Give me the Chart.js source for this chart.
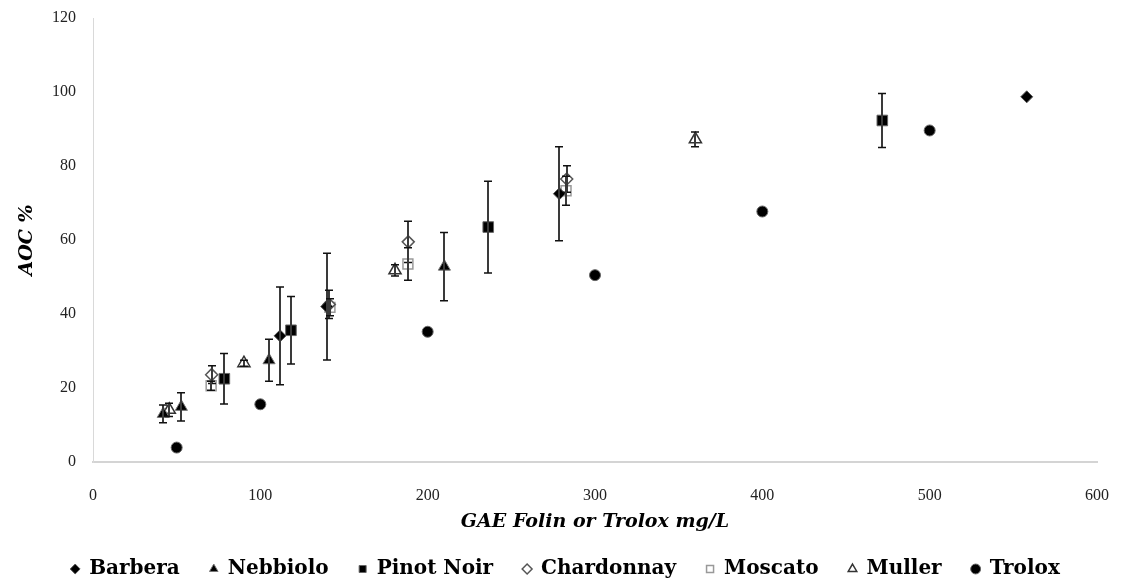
<!DOCTYPE html>
<html>
<head>
<meta charset="utf-8">
<script src="https://cdn.jsdelivr.net/npm/chart.js@4.4.0/dist/chart.umd.min.js"></script>
<style>
  html, body { margin: 0; padding: 0; background: #fff; }
  #wrap { width: 1121px; height: 586px; }
</style>
</head>
<body>
<div id="wrap"><canvas id="aocChart"></canvas></div>
<script>
// GAE (mg/L) / AOC % / standard deviation for each wine
const barberaX = [558, 278.7, 139.7, 111.8];
const barberaY = [98.7, 72.5, 42.0, 34.1];
const barberaErr = [0, 12.7, 14.4, 13.2];

const nebbioloX = [210, 105.2, 52.8, 42];
const nebbioloY = [52.8, 27.5, 14.9, 13.0];
const nebbioloErr = [9.2, 5.7, 3.8, 2.4];

const pinotX = [471.7, 236.2, 118.3, 78.5];
const pinotY = [92.3, 63.5, 35.6, 22.5];
const pinotErr = [7.3, 12.4, 9.1, 6.8];

const chardonnayX = [283.1, 188.4, 141.2, 70.9];
const chardonnayY = [76.5, 59.5, 42.6, 23.6];
const chardonnayErr = [3.6, 5.6, 3.8, 2.4];

const moscatoX = [282.7, 188.2, 141.6, 70.6];
const moscatoY = [73.3, 53.5, 41.8, 20.6];
const moscatoErr = [3.9, 4.4, 2.3, 1.2];

const mullerX = [360, 180.5, 90.2, 45.6];
const mullerY = [87.2, 51.8, 26.7, 14.1];
const mullerErr = [2.0, 1.5, 0.8, 1.8];

// Trolox standard curve
const troloxX = [50, 100, 200, 300, 400, 500];
const troloxY = [3.9, 15.6, 35.2, 50.5, 67.7, 89.6];

const TITLE_FONT = "'DejaVu Serif', 'Liberation Serif', serif";
const TICK_FONT = "'Liberation Serif', 'DejaVu Serif', serif";

function points(xs, ys) {
  return xs.map((x, i) => ({ x, y: ys[i] }));
}

function series(label, xs, ys, err, style) {
  return Object.assign({
    label,
    data: points(xs, ys),
    err,
    showLine: false
  }, style);
}

// vertical error bars with caps, drawn on top of the markers
const errorBars = {
  id: "errorBars",
  afterDatasetsDraw(chart) {
    const { ctx, scales: { x, y } } = chart;
    ctx.save();
    chart.data.datasets.forEach(ds => {
      if (!ds.err) return;
      ds.data.forEach((p, j) => {
        const e = ds.err[j];
        if (!e) return;
        const px = Math.round(x.getPixelForValue(p.x));
        const top = y.getPixelForValue(p.y + e);
        const bot = y.getPixelForValue(p.y - e);
        ctx.strokeStyle = "#3a3a3a";
        ctx.lineWidth = 2;
        ctx.beginPath();
        ctx.moveTo(px, top);
        ctx.lineTo(px, bot);
        ctx.stroke();
        ctx.strokeStyle = "#111";
        ctx.lineWidth = 1.5;
        ctx.beginPath();
        ctx.moveTo(px - 4, top);
        ctx.lineTo(px + 4, top);
        ctx.moveTo(px - 4, bot);
        ctx.lineTo(px + 4, bot);
        ctx.stroke();
      });
    });
    ctx.restore();
  }
};

// nudge the legend row a little to the right
const legendShift = {
  id: "legendShift",
  afterLayout(chart) {
    chart.legend.left += 11;
    chart.legend.right += 11;
  }
};

new Chart(document.getElementById("aocChart"), {
  type: "scatter",
  data: {
    datasets: [
      series("Barbera", barberaX, barberaY, barberaErr,
        { pointStyle: "rectRot", pointRadius: 6, backgroundColor: "#000", borderColor: "#555", borderWidth: 1 }),
      series("Nebbiolo", nebbioloX, nebbioloY, nebbioloErr,
        { pointStyle: "triangle", pointRadius: 7, backgroundColor: "#000", borderColor: "#777", borderWidth: 1 }),
      series("Pinot Noir", pinotX, pinotY, pinotErr,
        { pointStyle: "rect", pointRadius: 7.5, backgroundColor: "#000", borderColor: "#666", borderWidth: 1 }),
      series("Chardonnay", chardonnayX, chardonnayY, chardonnayErr,
        { pointStyle: "rectRot", pointRadius: 6, backgroundColor: "#fff", borderColor: "#555", borderWidth: 1.5 }),
      series("Moscato", moscatoX, moscatoY, moscatoErr,
        { pointStyle: "rect", pointRadius: 7, backgroundColor: "#fff", borderColor: "#999", borderWidth: 1.5 }),
      series("Muller", mullerX, mullerY, mullerErr,
        { pointStyle: "triangle", pointRadius: 7, backgroundColor: "#fff", borderColor: "#333", borderWidth: 1.5 }),
      series("Trolox", troloxX, troloxY, null,
        { pointStyle: "circle", pointRadius: 5.5, backgroundColor: "#000", borderColor: "#666", borderWidth: 1 })
    ]
  },
  options: {
    responsive: true,
    maintainAspectRatio: false,
    animation: false,
    layout: { padding: { top: 18, right: 24, bottom: -3, left: 12 } },
    plugins: {
      tooltip: { enabled: false },
      legend: {
        position: "bottom",
        labels: {
          usePointStyle: true,
          boxWidth: 8,
          boxHeight: 7,
          padding: 30,
          color: "#000",
          font: { family: TITLE_FONT, size: 20, weight: "bold" }
        }
      }
    },
    scales: {
      x: {
        type: "linear",
        min: 0,
        max: 600,
        ticks: { stepSize: 100, padding: 24, color: "#222", font: { family: TICK_FONT, size: 16 } },
        grid: { display: false, drawTicks: false },
        border: { display: true, color: "#d4d4d4", width: 2 },
        title: {
          display: true,
          text: "GAE Folin or Trolox mg/L",
          color: "#000",
          padding: { top: 0, bottom: -4 },
          font: { family: TITLE_FONT, size: 19, weight: "bold", style: "italic" }
        },
        afterFit(scale) {
          scale.height = 67;
          scale.paddingLeft = 0;
          scale.paddingRight = 0;
        }
      },
      y: {
        min: 0,
        max: 120,
        ticks: { stepSize: 20, padding: 17, color: "#222", font: { family: TICK_FONT, size: 16 } },
        grid: { display: false, drawTicks: false },
        border: { display: true, color: "#d9d9d9", width: 1 },
        title: {
          display: true,
          text: "AOC %",
          color: "#000",
          font: { family: TITLE_FONT, size: 19, weight: "bold", style: "italic" }
        },
        afterFit(scale) {
          scale.width = 81;
          scale.paddingTop = 0;
          scale.paddingBottom = 0;
        }
      }
    }
  },
  plugins: [errorBars, legendShift]
});
</script>
</body>
</html>
